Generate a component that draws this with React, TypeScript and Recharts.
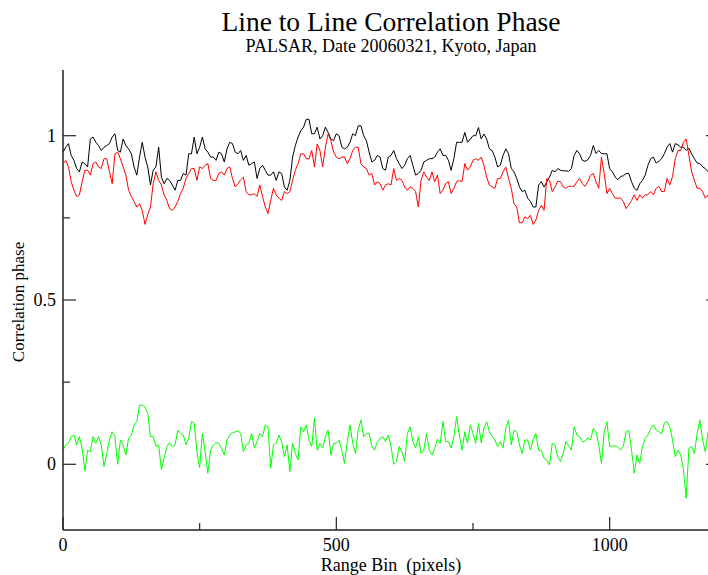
import { LineChart, Line, XAxis, YAxis } from 'recharts';

// range bin (pixels), sampled every 5 bins
const rangeBin = [
  0, 5, 10, 15, 20, 25, 30, 35, 40, 45,
  50, 55, 60, 65, 70, 75, 80, 85, 90, 95,
  100, 105, 110, 115, 120, 125, 130, 135, 140, 145,
  150, 155, 160, 165, 170, 175, 180, 185, 190, 195,
  200, 205, 210, 215, 220, 225, 230, 235, 240, 245,
  250, 255, 260, 265, 270, 275, 280, 285, 290, 295,
  300, 305, 310, 315, 320, 325, 330, 335, 340, 345,
  350, 355, 360, 365, 370, 375, 380, 385, 390, 395,
  400, 405, 410, 415, 420, 425, 430, 435, 440, 445,
  450, 455, 460, 465, 470, 475, 480, 485, 490, 495,
  500, 505, 510, 515, 520, 525, 530, 535, 540, 545,
  550, 555, 560, 565, 570, 575, 580, 585, 590, 595,
  600, 605, 610, 615, 620, 625, 630, 635, 640, 645,
  650, 655, 660, 665, 670, 675, 680, 685, 690, 695,
  700, 705, 710, 715, 720, 725, 730, 735, 740, 745,
  750, 755, 760, 765, 770, 775, 780, 785, 790, 795,
  800, 805, 810, 815, 820, 825, 830, 835, 840, 845,
  850, 855, 860, 865, 870, 875, 880, 885, 890, 895,
  900, 905, 910, 915, 920, 925, 930, 935, 940, 945,
  950, 955, 960, 965, 970, 975, 980, 985, 990, 995,
  1000, 1005, 1010, 1015, 1020, 1025, 1030, 1035, 1040, 1045,
  1050, 1055, 1060, 1065, 1070, 1075, 1080, 1085, 1090, 1095,
  1100, 1105, 1110, 1115, 1120, 1125, 1130, 1135, 1140, 1145,
  1150, 1155, 1160, 1165, 1170, 1175, 1180,
];

const phaseBlack = [
  0.95, 0.965, 0.976, 0.94, 0.925, 0.9, 0.89, 0.92, 0.915, 0.905,
  0.99, 0.996, 0.98, 0.97, 0.955, 0.965, 0.97, 0.976, 0.996, 1.006,
  0.955, 0.95, 0.99, 0.97, 0.96, 0.945, 0.905, 0.88, 0.935, 0.98,
  0.935, 0.905, 0.85, 0.895, 0.905, 0.965, 0.874, 0.854, 0.87, 0.864,
  0.85, 0.834, 0.864, 0.864, 0.885, 0.88, 0.945, 0.945, 0.996, 0.945,
  0.965, 0.996, 0.96, 0.95, 0.935, 0.935, 0.925, 0.95, 0.945, 0.92,
  0.96, 0.98, 0.976, 0.95, 0.945, 0.955, 0.925, 0.94, 0.91, 0.915,
  0.92, 0.87, 0.9, 0.91, 0.895, 0.88, 0.88, 0.89, 0.864, 0.89,
  0.885, 0.844, 0.834, 0.864, 0.935, 0.97, 0.996, 1.015, 1.026, 1.05,
  1.05, 1.006, 1.006, 1.026, 0.99, 1.0, 1.026, 1.01, 0.99, 0.985,
  1.006, 1.0, 0.965, 0.96, 0.965, 0.98, 1.006, 1.0, 1.03, 1.03,
  1.0, 0.985, 0.95, 0.92, 0.925, 0.94, 0.935, 0.9, 0.895, 0.935,
  0.94, 0.955, 0.93, 0.915, 0.9, 0.91, 0.93, 0.94, 0.91, 0.88,
  0.885, 0.895, 0.92, 0.925, 0.93, 0.93, 0.935, 0.95, 0.96, 0.94,
  0.94, 0.925, 0.895, 0.93, 0.98, 0.98, 0.98, 1.01, 0.98, 0.99,
  1.0, 1.0, 1.025, 0.99, 1.005, 0.99, 0.96, 0.955, 0.935, 0.905,
  0.91, 0.94, 0.96, 0.945, 0.9, 0.89, 0.87, 0.844, 0.83, 0.834,
  0.81, 0.8, 0.783, 0.783, 0.85, 0.86, 0.844, 0.86, 0.874, 0.895,
  0.89, 0.9, 0.895, 0.893, 0.893, 0.892, 0.9, 0.94, 0.955, 0.945,
  0.925, 0.922, 0.927, 0.94, 0.97, 0.946, 0.955, 0.946, 0.945, 0.945,
  0.9, 0.89, 0.874, 0.866, 0.876, 0.878, 0.885, 0.885, 0.86, 0.84,
  0.834, 0.854, 0.864, 0.88, 0.91, 0.93, 0.935, 0.917, 0.922, 0.93,
  0.945, 0.965, 0.976, 0.95, 0.976, 0.972, 0.965, 0.965, 0.955, 0.962,
  0.945, 0.93, 0.917, 0.915, 0.905, 0.9, 0.89,
];

const phaseRed = [
  0.915, 0.925, 0.905, 0.86, 0.834, 0.815, 0.82, 0.86, 0.895, 0.895,
  0.88, 0.915, 0.92, 0.905, 0.9, 0.93, 0.93, 0.89, 0.854, 0.945,
  0.95, 0.93, 0.905, 0.88, 0.834, 0.815, 0.8, 0.783, 0.793, 0.773,
  0.73, 0.76, 0.783, 0.854, 0.89, 0.864, 0.85, 0.82, 0.803, 0.778,
  0.773, 0.783, 0.8, 0.824, 0.84, 0.87, 0.885, 0.9, 0.9, 0.864,
  0.905, 0.9, 0.91, 0.915, 0.87, 0.864, 0.864, 0.885, 0.89, 0.88,
  0.9, 0.905, 0.87, 0.844, 0.854, 0.866, 0.874, 0.83, 0.82, 0.82,
  0.824, 0.815, 0.85, 0.815, 0.783, 0.763, 0.803, 0.84, 0.82, 0.81,
  0.803, 0.83, 0.824, 0.83, 0.864, 0.895, 0.915, 0.945, 0.945, 0.93,
  0.93, 0.955, 0.905, 0.975, 0.955, 0.905, 0.965, 1.006, 0.985, 0.95,
  0.935, 0.93, 0.935, 0.935, 0.915, 0.93, 0.955, 0.965, 0.965, 0.915,
  0.905, 0.9, 0.88, 0.885, 0.85, 0.86, 0.854, 0.834, 0.85, 0.854,
  0.85, 0.9, 0.864, 0.87, 0.864, 0.844, 0.834, 0.844, 0.84, 0.83,
  0.783, 0.864, 0.89, 0.874, 0.864, 0.89, 0.86, 0.88, 0.824, 0.834,
  0.854, 0.86, 0.824, 0.84, 0.86, 0.864, 0.86, 0.915, 0.895, 0.905,
  0.925, 0.93, 0.925, 0.935, 0.91, 0.874, 0.85, 0.844, 0.84, 0.87,
  0.87, 0.89, 0.905, 0.87, 0.84, 0.793, 0.783, 0.735, 0.735, 0.753,
  0.748, 0.758, 0.73, 0.743, 0.773, 0.788, 0.773, 0.87, 0.864, 0.83,
  0.844, 0.862, 0.86, 0.844, 0.84, 0.846, 0.846, 0.846, 0.86, 0.87,
  0.854, 0.846, 0.86, 0.88, 0.885, 0.86, 0.84, 0.935, 0.885, 0.824,
  0.84, 0.824, 0.81, 0.81, 0.81, 0.8, 0.778, 0.79, 0.803, 0.82,
  0.803, 0.82, 0.81, 0.82, 0.82, 0.83, 0.82, 0.84, 0.846, 0.83,
  0.83, 0.87, 0.85, 0.876, 0.93, 0.955, 0.955, 0.98, 0.99, 0.94,
  0.89, 0.864, 0.84, 0.84, 0.83, 0.81, 0.82,
];

const phaseGreen = [
  0.043, 0.059, 0.064, 0.084, 0.089, 0.059, 0.084, 0.049, -0.02, 0.043,
  0.038, 0.084, 0.064, 0.084, 0.059, -0.007, 0.033, 0.074, 0.099, 0.084,
  0.0, 0.074, 0.059, 0.028, 0.079, 0.089, 0.12, 0.13, 0.18, 0.18,
  0.175, 0.155, 0.084, 0.084, 0.054, 0.059, -0.017, 0.018, 0.054, 0.066,
  0.054, 0.059, 0.104, 0.094, 0.089, 0.059, 0.079, 0.13, 0.125, 0.038,
  -0.01, 0.094, 0.038, -0.027, 0.043, 0.059, 0.066, 0.064, 0.049, 0.028,
  0.074, 0.089, 0.096, 0.099, 0.102, 0.094, 0.038, 0.059, 0.064, 0.094,
  0.049, 0.069, 0.094, 0.084, 0.12, 0.114, -0.012, 0.059, 0.064, 0.089,
  0.069, 0.023, 0.059, -0.022, 0.064, 0.033, 0.013, 0.114, 0.099, 0.12,
  0.074, 0.054, 0.14, 0.043, 0.064, 0.049, 0.084, 0.104, 0.028, 0.064,
  0.064, 0.074, 0.043, 0.003, 0.069, 0.12, 0.064, 0.033, 0.104, 0.135,
  0.084, 0.094, 0.094, 0.054, 0.043, 0.069, 0.079, 0.084, 0.069, 0.089,
  0.054, 0.0, 0.008, 0.054, 0.038, 0.008, 0.094, 0.114, 0.069, 0.049,
  0.084, 0.033, 0.043, 0.094, 0.043, 0.028, 0.049, 0.076, 0.064, 0.13,
  0.069, 0.069, 0.049, 0.084, 0.145, 0.089, 0.043, 0.099, 0.064, 0.12,
  0.094, 0.064, 0.125, 0.066, 0.11, 0.13, 0.099, 0.084, 0.074, 0.054,
  0.069, 0.049, 0.11, 0.135, 0.059, 0.104, 0.099, 0.059, 0.033, 0.074,
  0.074, 0.043, 0.074, 0.094, 0.043, 0.043, 0.018, 0.013, -0.002, 0.064,
  0.059, 0.023, 0.008, 0.033, 0.069, 0.056, 0.043, 0.114, 0.089, 0.084,
  0.069, 0.07, 0.08, 0.074, 0.109, 0.099, 0.059, 0.003, 0.099, 0.13,
  0.054, 0.056, 0.056, 0.052, 0.043, 0.056, 0.099, 0.104, 0.043, -0.027,
  0.028, 0.003, 0.054, 0.079, 0.089, 0.109, 0.12, 0.104, 0.099, 0.094,
  0.125, 0.13, 0.114, 0.074, 0.023, 0.043, 0.028, -0.017, -0.103, 0.049,
  0.054, 0.033, 0.094, 0.135, 0.074, 0.038, 0.099,
];

const xTicks = [0, 250, 500, 750, 1000];
const yTicks = [0, 0.25, 0.5, 0.75, 1];

const data = rangeBin.map((bin, i) => ({
  bin,
  black: phaseBlack[i],
  red: phaseRed[i],
  green: phaseGreen[i],
}));

const SERIF = '"Liberation Serif", "DejaVu Serif", serif';
const FRAME = '#222';

const isMajorX = (v: number) => v % 500 === 0;
const isMajorY = (v: number) => Math.abs(v * 2 - Math.round(v * 2)) < 1e-6;

// grace-style ticks: pointing into the plot, labels only on majors
function BottomTick({ x, y, payload }: any) {
  const major = isMajorX(payload.value);
  return (
    <g>
      <line x1={x} x2={x} y1={y} y2={y - (major ? 13 : 7)} stroke={FRAME} strokeWidth={1.2} />
      {major && (
        <text x={x} y={y + 21} textAnchor="middle" fontSize={18} fontFamily={SERIF} fill="#000">
          {payload.value}
        </text>
      )}
    </g>
  );
}

function TopTick({ x, y, payload }: any) {
  const major = isMajorX(payload.value);
  return <line x1={x} x2={x} y1={y} y2={y + (major ? 13 : 7)} stroke={FRAME} strokeWidth={1.2} />;
}

function LeftTick({ x, y, payload }: any) {
  const major = isMajorY(payload.value);
  return (
    <g>
      <line x1={x} x2={x + (major ? 13 : 7)} y1={y} y2={y} stroke={FRAME} strokeWidth={1.2} />
      {major && (
        <text x={x - 7} y={y + 6} textAnchor="end" fontSize={18} fontFamily={SERIF} fill="#000">
          {payload.value}
        </text>
      )}
    </g>
  );
}

function RightTick({ x, y, payload }: any) {
  const major = isMajorY(payload.value);
  return <line x1={x} x2={x - (major ? 13 : 7)} y1={y} y2={y} stroke={FRAME} strokeWidth={1.2} />;
}

export default function App() {
  return (
    <div style={{ position: 'absolute', left: 0, top: 0, width: 708, height: 575, overflow: 'hidden', background: '#fff', fontFamily: SERIF }}>
      <div style={{ position: 'absolute', left: 0, width: 782, top: 8, textAlign: 'center', fontSize: 27.5, lineHeight: 1, color: '#000' }}>
        Line to Line Correlation Phase
      </div>
      <div style={{ position: 'absolute', left: 0, width: 782, top: 37, textAlign: 'center', fontSize: 18, lineHeight: 1, color: '#000' }}>
        PALSAR, Date 20060321, Kyoto, Japan
      </div>
      <LineChart width={740} height={575} data={data} margin={{ top: 70, right: 0, bottom: 0, left: 3 }}>
        <XAxis
          xAxisId="b"
          dataKey="bin"
          type="number"
          domain={[0, 1200]}
          allowDataOverflow
          ticks={xTicks}
          height={45}
          tickSize={0}
          tickMargin={0}
          tick={<BottomTick />}
          axisLine={{ stroke: FRAME, strokeWidth: 1.5 }}
        />
        <XAxis
          xAxisId="t"
          orientation="top"
          dataKey="bin"
          type="number"
          domain={[0, 1200]}
          allowDataOverflow
          ticks={xTicks}
          height={0}
          tickSize={0}
          tickMargin={0}
          tick={<TopTick />}
          axisLine={{ stroke: FRAME, strokeWidth: 1.5 }}
        />
        <YAxis
          yAxisId="l"
          type="number"
          domain={[-0.2, 1.2]}
          allowDataOverflow
          ticks={yTicks}
          width={60}
          tickSize={0}
          tickMargin={0}
          tick={<LeftTick />}
          axisLine={{ stroke: FRAME, strokeWidth: 1.5 }}
        />
        <YAxis
          yAxisId="r"
          orientation="right"
          type="number"
          domain={[-0.2, 1.2]}
          allowDataOverflow
          ticks={yTicks}
          width={21}
          tickSize={0}
          tickMargin={0}
          tick={<RightTick />}
          axisLine={{ stroke: FRAME, strokeWidth: 1.5 }}
        />
        <Line xAxisId="b" yAxisId="l" type="linear" dataKey="black" stroke="#000000" strokeWidth={1} dot={false} isAnimationActive={false} />
        <Line xAxisId="b" yAxisId="l" type="linear" dataKey="red" stroke="#ff0000" strokeWidth={1} dot={false} isAnimationActive={false} />
        <Line xAxisId="b" yAxisId="l" type="linear" dataKey="green" stroke="#00ff00" strokeWidth={1} dot={false} isAnimationActive={false} />
      </LineChart>
      <div style={{ position: 'absolute', left: 0, width: 782, top: 556, textAlign: 'center', fontSize: 18, lineHeight: 1, color: '#000', whiteSpace: 'pre' }}>
        {'Range Bin  (pixels)'}
      </div>
      <div
        style={{
          position: 'absolute',
          left: 18,
          top: 302,
          transform: 'translate(-50%, -50%) rotate(-90deg)',
          fontSize: 17,
          lineHeight: 1,
          color: '#000',
          whiteSpace: 'nowrap',
        }}
      >
        Correlation phase
      </div>
    </div>
  );
}
